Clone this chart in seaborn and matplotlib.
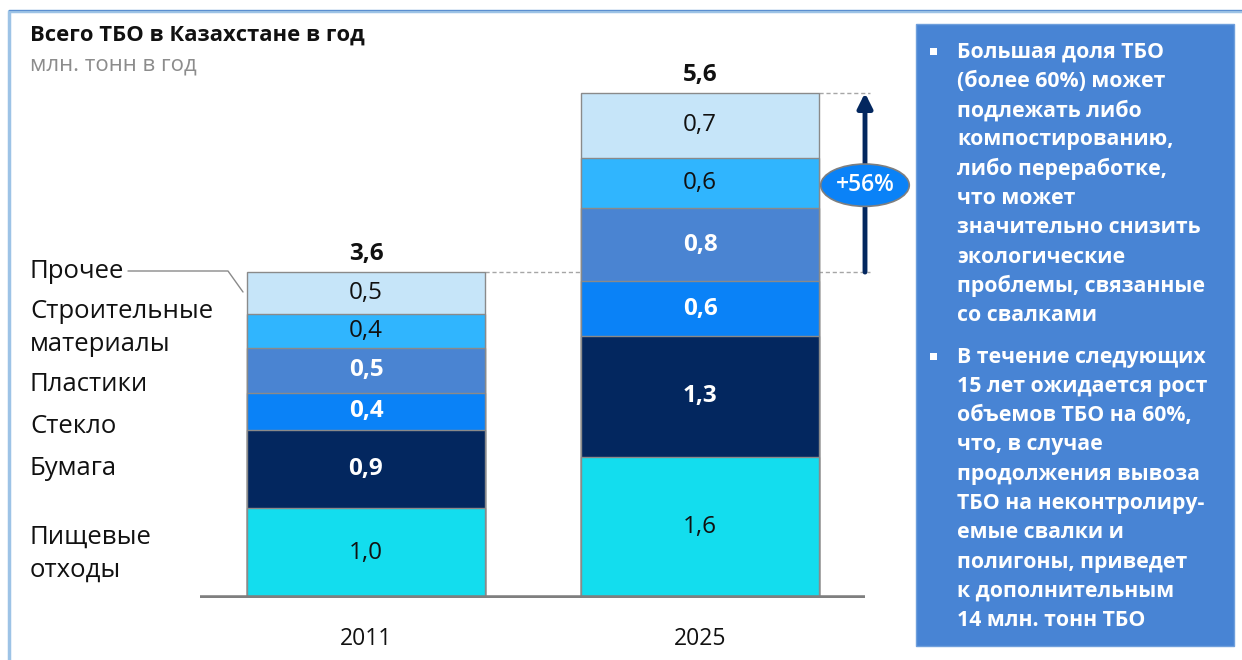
import numpy as np
import pandas as pd
import matplotlib
matplotlib.use("Agg")
import matplotlib.pyplot as plt
import matplotlib.transforms as mtransforms
from matplotlib.patches import Rectangle, Ellipse
from matplotlib.lines import Line2D
import seaborn as sns

# ---------------- data ----------------
years = ["2011", "2025"]
categories = ["Пищевые отходы", "Бумага", "Стекло", "Пластики", "Строительные материалы", "Прочее"]
category_labels = ["Пищевые\nотходы", "Бумага", "Стекло", "Пластики", "Строительные\nматериалы", "Прочее"]
food = [1.00, 1.57]
paper = [0.87, 1.34]
glass = [0.41, 0.61]
plastics = [0.50, 0.81]
construction = [0.37, 0.56]
other = [0.47, 0.72]
growth_label = "+56%"
title = "Всего ТБО в Казахстане в год"
subtitle = "млн. тонн в год"
bullet1 = ["Большая доля ТБО", "(более 60%) может", "подлежать либо", "компостированию,",
           "либо переработке,", "что может", "значительно снизить", "экологические",
           "проблемы, связанные", "со свалками"]
bullet2 = ["В течение следующих", "15 лет ожидается рост", "объемов ТБО на 60%,",
           "что, в случае", "продолжения вывоза", "ТБО на неконтролиру-",
           "емые свалки и", "полигоны, приведет", "к дополнительным", "14 млн. тонн ТБО"]

# ---------------- style ----------------
colors = ["#13DDEE", "#03275F", "#0A82F7", "#4A84D2", "#30B5FE", "#C6E5F9"]
text_white = [False, True, True, True, False, False]
sns.set_theme(style="white")
FONT = ["Open Sans", "DejaVu Sans"]
plt.rcParams["font.family"] = FONT

W, H = 1242, 660
fig = plt.figure(figsize=(W / 100, H / 100), dpi=100)
fig.patch.set_facecolor("white")

def fx(px):
    return px / W

def fy(py):
    return 1 - py / H

# axes: x from 200 to 865 px, y from 20 to 598 px
ax = fig.add_axes([fx(200), fy(598), fx(865) - fx(200), (598 - 20) / H])
ax.set_facecolor("none")

layers = np.array([food, paper, glass, plastics, construction, other])
cum = np.cumsum(layers, axis=0)
for i in reversed(range(len(layers))):
    sns.barplot(x=years, y=cum[i], color=colors[i], saturation=1, width=0.71,
                edgecolor="#8a8a8a", linewidth=1.0, ax=ax, zorder=2)

xl = (-0.497, 1.494)
ax.set_xlim(*xl)
ax.set_ylim(0, 6.42)
for s in ax.spines.values():
    s.set_visible(False)
ax.set_yticks([])
ax.set_ylabel("")
ax.set_xlabel("")
ax.tick_params(axis="x", length=0, pad=21, labelsize=16.5)
for t in ax.get_xticklabels():
    t.set_color("#111111")
ax.axhline(0, color="#7f7f7f", lw=4, zorder=3)

# segment labels
for i in range(len(layers)):
    for j in range(len(years)):
        v = layers[i, j]
        mid = cum[i, j] - v / 2
        lab = f"{v:.1f}".replace(".", ",")
        if text_white[i]:
            ax.text(j, mid, lab, ha="center", va="center", color="white",
                    fontsize=17.5, fontweight="bold", zorder=5)
        else:
            ax.text(j, mid, lab, ha="center", va="center", color="#111111",
                    fontsize=17.5, zorder=5)

totals = cum[-1]
for j in range(len(years)):
    ax.text(j, totals[j] + 0.2, f"{totals[j]:.1f}".replace(".", ","), ha="center",
            va="center", fontsize=17.5, fontweight="bold", color="#111111", zorder=5)

# dashed reference lines
xr = 1.509
for j in range(len(years)):
    ax.plot([j + 0.355, xr], [totals[j], totals[j]], ls=(0, (3, 2)), color="#a6a6a6",
            lw=1, clip_on=False, zorder=1)

# growth arrow
xa = 1.494
ax.annotate("", xy=(xa, totals[1]), xytext=(xa, totals[0]),
            arrowprops=dict(arrowstyle="-|>", color="#03275F", lw=3.5,
                            mutation_scale=22, shrinkA=0, shrinkB=0),
            annotation_clip=False, zorder=4)
ymid = (totals[0] + totals[1]) / 2 - 0.03
ell = Ellipse((xa, ymid), 0.265, 0.47, facecolor="#0A82F7", edgecolor="#7f7f7f",
              lw=1.2, clip_on=False, zorder=6)
ax.add_patch(ell)
ax.text(xa, ymid, growth_label, ha="center", va="center", color="white",
        fontsize=16.5, fontweight="semibold", zorder=7)

# category labels at left
trans = mtransforms.blended_transform_factory(fig.transFigure, ax.transData)
label_y = [0.49, 1.44, 1.91, 2.37, 3.0, 3.63]
for lab, yy in zip(category_labels, label_y):
    ax.text(fx(30), yy, lab, transform=trans, ha="left", va="center", fontsize=18.5,
            color="#111111", linespacing=1.42)
fig.add_artist(Line2D([fx(128), fx(228), fx(243)], [fy(271), fy(271), fy(292)],
                      color="#8a8a8a", lw=1))

# title
fig.text(fx(30), fy(35), title, ha="left", va="center", fontsize=15.8,
         fontweight="bold", color="#111111")
fig.text(fx(30), fy(65), subtitle, ha="left", va="center", fontsize=16,
         color="#8c8c8c")

# frame lines
fig.add_artist(Line2D([fx(9), fx(9)], [fy(12), fy(660)], color="#9DC3E6", lw=2.5))
fig.add_artist(Line2D([fx(9), fx(1242)], [fy(11), fy(11)], color="#9DC3E6", lw=2.5))
fig.add_artist(Line2D([fx(9), fx(1242)], [fy(9.5), fy(9.5)], color="#5B8FD0", lw=0.8))

# right panel
fig.add_artist(Rectangle((fx(916), fy(646)), fx(1234) - fx(916), (646 - 24) / H,
                         facecolor="#4884D4", edgecolor="#6f9fdc", lw=1))
step = 29.3
for k, lines in enumerate([bullet1, bullet2]):
    y0 = 52 if k == 0 else 357
    fig.add_artist(Rectangle((fx(930), fy(y0 + 3)), fx(7), 7 / H, facecolor="white",
                             edgecolor="none"))
    for n, line in enumerate(lines):
        fig.text(fx(957), fy(y0 + n * step), line, ha="left", va="center",
                 fontsize=15.3, fontweight="bold", color="white")

fig.savefig("out.png", dpi=100, facecolor="white")
